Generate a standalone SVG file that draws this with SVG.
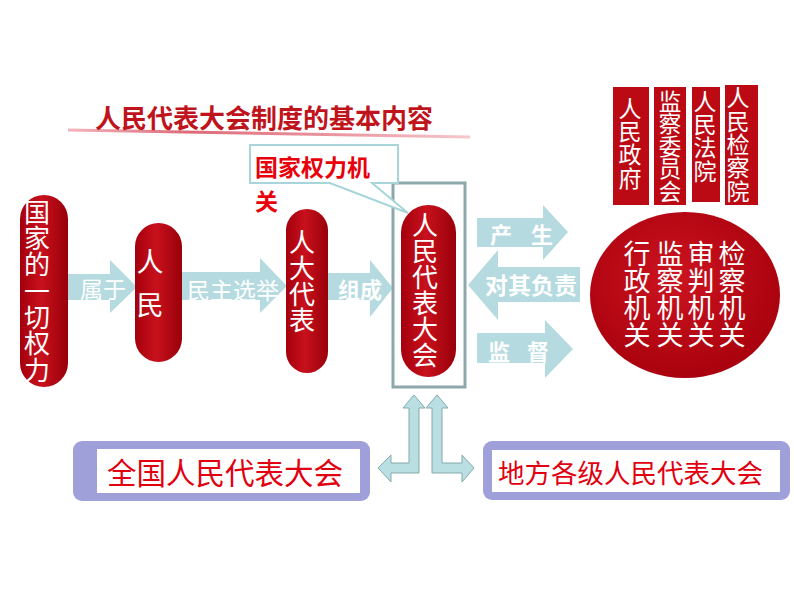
<svg xmlns="http://www.w3.org/2000/svg" width="794" height="596" viewBox="0 0 794 596">
<defs>
<linearGradient id="pillG" x1="0" y1="0" x2="1" y2="0">
<stop offset="0" stop-color="#a4000c"/>
<stop offset="0.45" stop-color="#c8111d"/>
<stop offset="1" stop-color="#98000a"/>
</linearGradient>
<radialGradient id="ellG" cx="0.45" cy="0.4" r="0.65">
<stop offset="0" stop-color="#cc1420"/>
<stop offset="1" stop-color="#a6000c"/>
</radialGradient>
<linearGradient id="lineG" x1="0" y1="0" x2="1" y2="0">
<stop offset="0" stop-color="#f2b6bd"/>
<stop offset="0.3" stop-color="#de6a78"/>
<stop offset="0.7" stop-color="#eb9aa4"/>
<stop offset="1" stop-color="#f6c8cd"/>
</linearGradient>
<style>
text{font-family:"Noto Sans CJK SC","Noto Sans",sans-serif;}
.pill{fill:url(#pillG);}
.rect{fill:#bb0a14;}
.vt{fill:#ffffff;writing-mode:vertical-rl;text-orientation:upright;}
.big{fill:#b5dbe0;}
.lbl{fill:#ffffff;text-anchor:middle;font-size:22px;}
.b{font-weight:700;}
.outer{fill:#9fa0da;}
.inner{fill:#ffffff;}
.red{fill:#e1000f;text-anchor:middle;}
.bent{fill:#b9dfe2;stroke:#86a9ae;stroke-width:1;}
</style>
</defs>
<rect x="0" y="0" width="794" height="596" fill="#ffffff"/>

<g id="title">
<path d="M68,130 L470,137" stroke="url(#lineG)" stroke-width="3" fill="none"/>
<text x="95" y="128" font-size="26" font-weight="700" fill="#c0141c">人民代表大会制度的基本内容</text>
</g>

<g id="connectors">
<path class="big" d="M68,274 H110 V260 L137,287 L110,313 V300 H68 Z"/>
<text class="lbl" x="103" y="298" style="font-size:23px">属于</text>
<path class="big" d="M182,272 H260 V258 L287,286 L260,313 V300 H182 Z"/>
<text class="lbl" x="233" y="299" style="font-size:23px">民主选举</text>
<path class="big" d="M328,273 H370 V260 L393,288 L370,317 V300 H328 Z"/>
<text class="lbl b" x="360" y="298">组成</text>
<path class="big" d="M477,218 H543 V205 L568,232 L543,260 V247 H477 Z"/>
<text class="lbl b" y="243"><tspan x="501">产</tspan><tspan x="542">生</tspan></text>
<path class="big" d="M580,267 H498 V250 L468,285 L498,320 V302 H580 Z"/>
<text class="lbl b" x="531" y="294" style="font-size:23px">对其负责</text>
<path class="big" d="M477,333 H545 V320 L573,349 L545,378 V363 H477 Z"/>
<text class="lbl b" y="360"><tspan x="499">监</tspan><tspan x="538">督</tspan></text>
<path class="bent" d="M414,395 L425,408 L419,408 L419,473 L391,473 L391,482 L378,468 L391,455 L391,463 L409,463 L409,408 L403,408 Z"/>
<path class="bent" d="M437,395 L448,408 L442,408 L442,463 L462,463 L462,455 L474,468 L462,482 L462,473 L432,473 L432,408 L426,408 Z"/>
</g>

<g id="node-power">
<rect class="pill" x="20" y="195" width="48" height="192" rx="24"/>
<text class="vt" x="37" y="199" font-size="26" letter-spacing="0.3">国家的一切权力</text>
</g>

<g id="node-people">
<rect class="pill" x="135" y="223" width="47" height="139" rx="23.5"/>
<text class="vt" x="150" y="248.5" font-size="27" letter-spacing="16">人民</text>
</g>

<g id="node-deputies">
<rect class="pill" x="286" y="209" width="42" height="164" rx="21"/>
<text class="vt" x="302" y="229" font-size="26">人大代表</text>
</g>

<g id="node-npc">
<rect x="393" y="183" width="72" height="204" fill="none" stroke="#8ea7ab" stroke-width="3"/>
<rect class="pill" x="401" y="205" width="55" height="172" rx="27.5"/>
<text class="vt" x="425" y="212" font-size="26">人民代表大会</text>
</g>

<g id="callout">
<path d="M250,145 H398 V183 H372 L408,213 L330,183 H250 Z" fill="#ffffff" stroke="#a7d5da" stroke-width="2"/>
<text font-size="23" font-weight="700" fill="#e8000b"><tspan x="255" y="176">国家权力机</tspan><tspan x="255" y="210">关</tspan></text>
</g>

<g id="node-organs">
<ellipse cx="685" cy="295" rx="95" ry="83" fill="url(#ellG)"/>
<text class="vt" x="637" y="240.5" font-size="27">行政机关</text>
<text class="vt" x="670" y="240.5" font-size="27">监察机关</text>
<text class="vt" x="701" y="240.5" font-size="27">审判机关</text>
<text class="vt" x="732" y="240.5" font-size="27">检察机关</text>
</g>

<g id="node-government">
<rect class="rect" x="613" y="87" width="36" height="118"/>
<text class="vt" x="630" y="96.5" font-size="23" letter-spacing="0.3">人民政府</text>
</g>

<g id="node-supervision">
<rect class="rect" x="654" y="87" width="32" height="118"/>
<text class="vt" x="670" y="90" font-size="22.5">监察委员会</text>
</g>

<g id="node-court">
<rect class="rect" x="692" y="87" width="28" height="115"/>
<text class="vt" x="705" y="89.5" font-size="23" letter-spacing="0.3">人民法院</text>
</g>

<g id="node-procuratorate">
<rect class="rect" x="725" y="85" width="33" height="120"/>
<text class="vt" x="738" y="86" font-size="23" letter-spacing="0.4">人民检察院</text>
</g>

<g id="node-national">
<rect class="outer" x="73" y="441" width="297" height="60" rx="9"/>
<rect class="inner" x="97" y="449" width="263" height="44"/>
<text class="red" x="225" y="484" font-size="29.5">全国人民代表大会</text>
</g>

<g id="node-local">
<rect class="outer" x="483" y="441" width="307" height="59" rx="9"/>
<rect class="inner" x="492" y="450" width="288" height="42"/>
<text class="red" x="630.5" y="483" font-size="26.5">地方各级人民代表大会</text>
</g>
</svg>
